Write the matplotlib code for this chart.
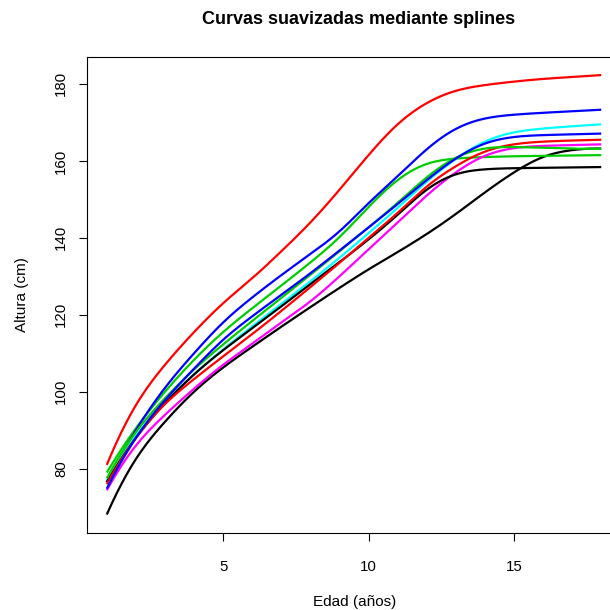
import numpy as np
import matplotlib
matplotlib.use("Agg")
import matplotlib.pyplot as plt

plt.rcParams['font.family'] = ['Liberation Sans', 'DejaVu Sans']

# Edades (años) y alturas (cm)
edad = [1, 2, 3, 4, 5, 6, 7, 8, 9, 10, 11, 12, 13, 14, 15, 16, 17, 18]

nina_01 = [68.1, 82.5, 92.2, 100.0, 106.3, 111.7, 116.9, 122.0, 127.0, 131.8,
           136.3, 141.0, 146.2, 151.8, 157.0, 161.0, 162.8, 163.2]
nina_02 = [81.0, 96.5, 107.0, 115.5, 123.0, 129.5, 136.5, 144.0, 152.5, 161.5,
           169.5, 175.0, 178.2, 179.7, 180.6, 181.3, 181.8, 182.3]
nina_03 = [79.0, 90.5, 100.0, 108.3, 115.5, 121.7, 127.6, 133.6, 140.2, 148.0,
           155.0, 159.2, 160.6, 161.0, 161.2, 161.3, 161.4, 161.5]
nina_04 = [76.5, 90.0, 101.0, 110.0, 118.0, 124.5, 130.3, 135.8, 141.7, 149.0,
           156.0, 163.0, 168.3, 171.0, 172.0, 172.5, 172.9, 173.3]
nina_05 = [77.0, 88.5, 97.2, 104.5, 111.0, 117.0, 122.8, 128.7, 134.8, 141.2,
           147.8, 154.6, 160.5, 165.0, 167.4, 168.4, 169.0, 169.5]
nina_06 = [74.4, 86.0, 94.0, 100.8, 107.0, 112.5, 118.0, 123.5, 130.0, 137.0,
           144.0, 151.0, 157.0, 161.3, 163.3, 163.9, 164.1, 164.3]
nina_07 = [76.5, 88.0, 97.0, 104.5, 110.8, 116.5, 122.2, 128.0, 133.7, 139.6,
           146.0, 152.5, 156.5, 157.8, 158.1, 158.2, 158.3, 158.4]
nina_08 = [76.0, 88.0, 96.8, 103.3, 109.2, 115.0, 121.0, 127.2, 133.5, 140.0,
           146.5, 153.3, 158.6, 162.4, 164.3, 165.0, 165.3, 165.5]
nina_09 = [77.5, 89.5, 98.3, 105.8, 112.3, 118.4, 124.4, 130.4, 136.5, 142.7,
           149.1, 155.7, 160.8, 163.2, 163.6, 163.4, 163.2, 163.1]
nina_10 = [74.8, 88.0, 97.8, 106.0, 113.5, 119.6, 125.2, 130.8, 136.7, 142.7,
           148.8, 155.0, 160.6, 164.5, 166.2, 166.7, 166.9, 167.1]

alturas = [nina_01, nina_02, nina_03, nina_04, nina_05,
           nina_06, nina_07, nina_08, nina_09, nina_10]
colores = ['black', '#FF0000', '#00CD00', '#0000FF', '#00FFFF', '#FF00FF']


def spline_cubica(x, y, xs):
    # spline cubica con extremos parabolicos (c0 = c1, cn = cn-1)
    x = np.asarray(x, float)
    y = np.asarray(y, float)
    n = len(x)
    h = np.diff(x)
    A = np.zeros((n, n))
    b = np.zeros(n)
    A[0, 0], A[0, 1] = 1.0, -1.0
    A[-1, -1], A[-1, -2] = 1.0, -1.0
    for i in range(1, n - 1):
        A[i, i - 1] = h[i - 1]
        A[i, i] = 2 * (h[i - 1] + h[i])
        A[i, i + 1] = h[i]
        b[i] = 3 * ((y[i + 1] - y[i]) / h[i] - (y[i] - y[i - 1]) / h[i - 1])
    c = np.linalg.solve(A, b)
    bb = (y[1:] - y[:-1]) / h - h * (2 * c[:-1] + c[1:]) / 3
    d = (c[1:] - c[:-1]) / (3 * h)
    idx = np.clip(np.searchsorted(x, xs) - 1, 0, n - 2)
    dx = xs - x[idx]
    return y[idx] + bb[idx] * dx + c[idx] * dx ** 2 + d[idx] * dx ** 3


W = H = 610
fig = plt.figure(figsize=(6.1, 6.1), dpi=100)
ax = fig.add_axes([87 / W, 1 - 533 / H, (621 - 87) / W, (533 - 57) / H])

xs = np.linspace(edad[0], edad[-1], 400)
for i, h in enumerate(alturas):
    ax.plot(xs, spline_cubica(edad, h, xs), color=colores[i % 6], lw=1.6,
            solid_capstyle='butt')

ax.set_xlim(0.32, 18.68)
ax.set_ylim(63.3, 187.0)
ax.set_xticks([5, 10, 15])
ax.set_yticks([80, 100, 120, 140, 160, 180])
ax.tick_params(direction='out', length=5.5, width=0.8, labelsize=10.8,
               top=False, right=False)
ax.tick_params(axis='x', pad=14)
ax.tick_params(axis='y', pad=8)
for lab in ax.get_yticklabels():
    lab.set_rotation(90)
    lab.set_va('center')
for s in ax.spines.values():
    s.set_linewidth(0.8)

fig.text(359 / W, 1 - 20 / H, 'Curvas suavizadas mediante splines',
         ha='center', va='center', fontsize=13, fontweight='bold')
fig.text(355 / W, 1 - 602 / H, 'Edad (años)', ha='center', va='center',
         fontsize=11)
fig.text(22 / W, 1 - 295 / H, 'Altura (cm)', ha='center', va='center',
         fontsize=11, rotation=90)

fig.savefig('out.png', dpi=100)
